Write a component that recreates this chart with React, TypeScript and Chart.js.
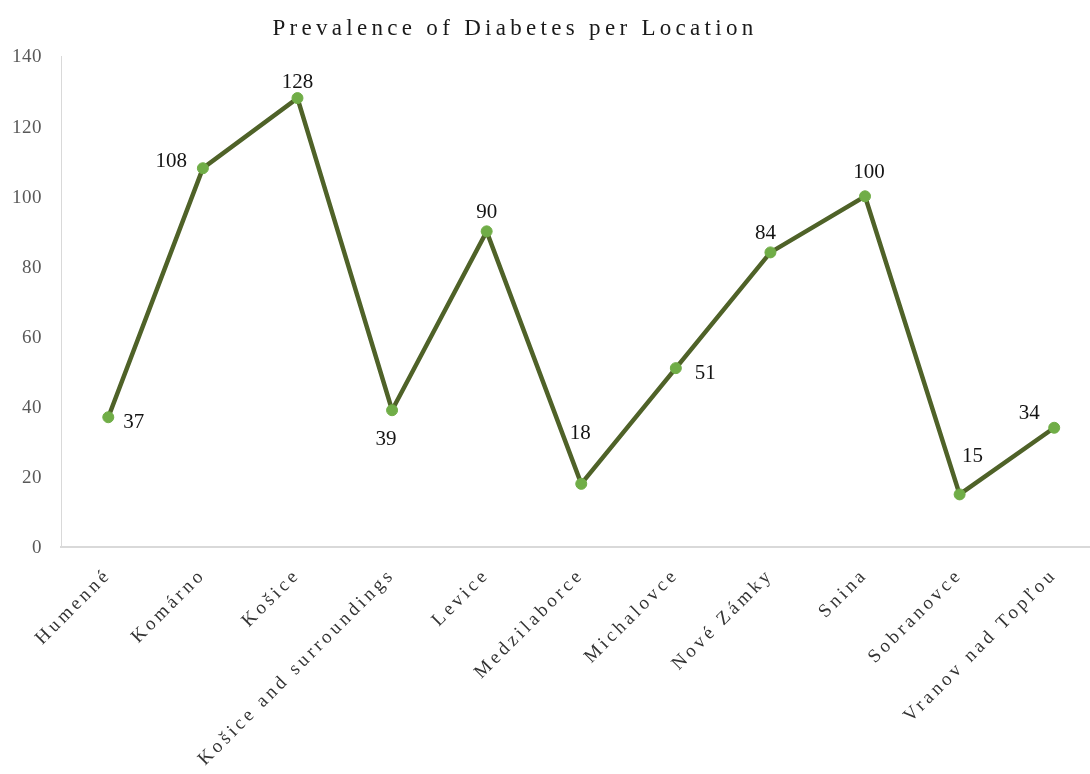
import React, { useEffect, useRef } from 'react';
import { Chart, registerables } from 'chart.js';

Chart.register(...registerables);

const SERIF = "'Liberation Serif', 'Times New Roman', serif";

const chartTitle = 'Prevalence of Diabetes per Location';

const locations = [
  'Humenné',
  'Komárno',
  'Košice',
  'Košice and surroundings',
  'Levice',
  'Medzilaborce',
  'Michalovce',
  'Nové Zámky',
  'Snina',
  'Sobranovce',
  'Vranov nad Topľou',
];

const prevalence = [37, 108, 128, 39, 90, 18, 51, 84, 100, 15, 34];

const yMin = 0;
const yMax = 140;
const yStep = 20;

// nudge of each value label away from its point, in pixels, with its alignment
const valueLabelNudge: { dx: number; dy: number; align: CanvasTextAlign }[] = [
  { dx: 15, dy: 5, align: 'left' },
  { dx: -16, dy: -7, align: 'right' },
  { dx: 0, dy: -16, align: 'center' },
  { dx: -6, dy: 29, align: 'center' },
  { dx: 0, dy: -19, align: 'center' },
  { dx: -1, dy: -50, align: 'center' },
  { dx: 19, dy: 5, align: 'left' },
  { dx: -5, dy: -19, align: 'center' },
  { dx: 4, dy: -24, align: 'center' },
  { dx: 13, dy: -38, align: 'center' },
  { dx: -25, dy: -14, align: 'center' },
];

// tick labels drawn with wider letter spacing
const spacedTickLabels = {
  id: 'spacedTickLabels',
  beforeDraw(chart: any) {
    const spacing: Record<string, string> = { x: '3.5px', y: '0.5px' };
    Object.keys(spacing).forEach((id) => {
      const scale = chart.scales[id];
      if (!scale || scale.__spaced) return;
      const base = scale.drawLabels;
      scale.drawLabels = function (area: any) {
        const ctx = this.ctx;
        ctx.save();
        ctx.letterSpacing = spacing[id];
        base.call(this, area);
        ctx.restore();
      };
      scale.__spaced = true;
    });
  },
};

const spacedTitle = {
  id: 'spacedTitle',
  afterDraw(chart: any) {
    const ctx = chart.ctx;
    ctx.save();
    ctx.font = `23px ${SERIF}`;
    ctx.letterSpacing = '4.3px';
    ctx.fillStyle = '#1a1a1a';
    ctx.textAlign = 'center';
    ctx.textBaseline = 'alphabetic';
    ctx.fillText(chartTitle, 515, 35);
    ctx.restore();
  },
};

const valueLabels = {
  id: 'valueLabels',
  afterDatasetsDraw(chart: any) {
    const ctx = chart.ctx;
    const meta = chart.getDatasetMeta(0);
    ctx.save();
    ctx.font = `21px ${SERIF}`;
    ctx.fillStyle = '#141414';
    ctx.textBaseline = 'middle';
    meta.data.forEach((pt: any, i: number) => {
      const { x, y } = pt.getProps(['x', 'y'], true);
      const n = valueLabelNudge[i];
      ctx.textAlign = n.align;
      ctx.fillText(String(prevalence[i]), x + n.dx, y + n.dy);
    });
    ctx.restore();
  },
};

export default function App() {
  const canvasRef = useRef<HTMLCanvasElement | null>(null);

  useEffect(() => {
    if (!canvasRef.current) return;
    const chart = new Chart(canvasRef.current, {
      type: 'line',
      data: {
        labels: locations,
        datasets: [
          {
            data: prevalence,
            borderColor: '#4F6228',
            borderWidth: 4.5,
            pointStyle: 'circle',
            pointRadius: 5.5,
            pointBackgroundColor: '#70AD47',
            pointBorderColor: '#70AD47',
            pointBorderWidth: 1,
            tension: 0,
            fill: false,
          },
        ],
      },
      options: {
        animation: false,
        responsive: true,
        maintainAspectRatio: false,
        layout: { padding: { top: 56, right: 0, bottom: 0, left: 0 } },
        plugins: {
          legend: { display: false },
          tooltip: { enabled: false },
          title: { display: false },
        },
        scales: {
          x: {
            type: 'category',
            offset: true,
            grid: { display: false, drawTicks: false },
            border: { display: true, color: '#d9d9d9', width: 2 },
            ticks: {
              minRotation: 45,
              maxRotation: 45,
              autoSkip: false,
              padding: 17,
              color: '#333333',
              font: { family: SERIF, size: 19 },
            },
            afterFit(scale: any) {
              scale.height = 227;
            },
          },
          y: {
            min: yMin,
            max: yMax,
            grid: { display: false, drawTicks: false },
            border: { display: true, color: '#d9d9d9', width: 1 },
            ticks: {
              stepSize: yStep,
              padding: 19,
              labelOffset: 1.5,
              color: '#595959',
              font: { family: SERIF, size: 19 },
            },
            afterFit(scale: any) {
              scale.width = 61;
            },
          },
        },
      },
      plugins: [spacedTickLabels, valueLabels, spacedTitle],
    });
    return () => chart.destroy();
  }, []);

  return (
    <div
      style={{
        position: 'absolute',
        left: 0,
        top: 0,
        width: 1090,
        height: 774,
        overflow: 'hidden',
        background: '#ffffff',
      }}
    >
      <div style={{ position: 'relative', width: 1108, height: 774 }}>
        <canvas ref={canvasRef} />
      </div>
    </div>
  );
}
